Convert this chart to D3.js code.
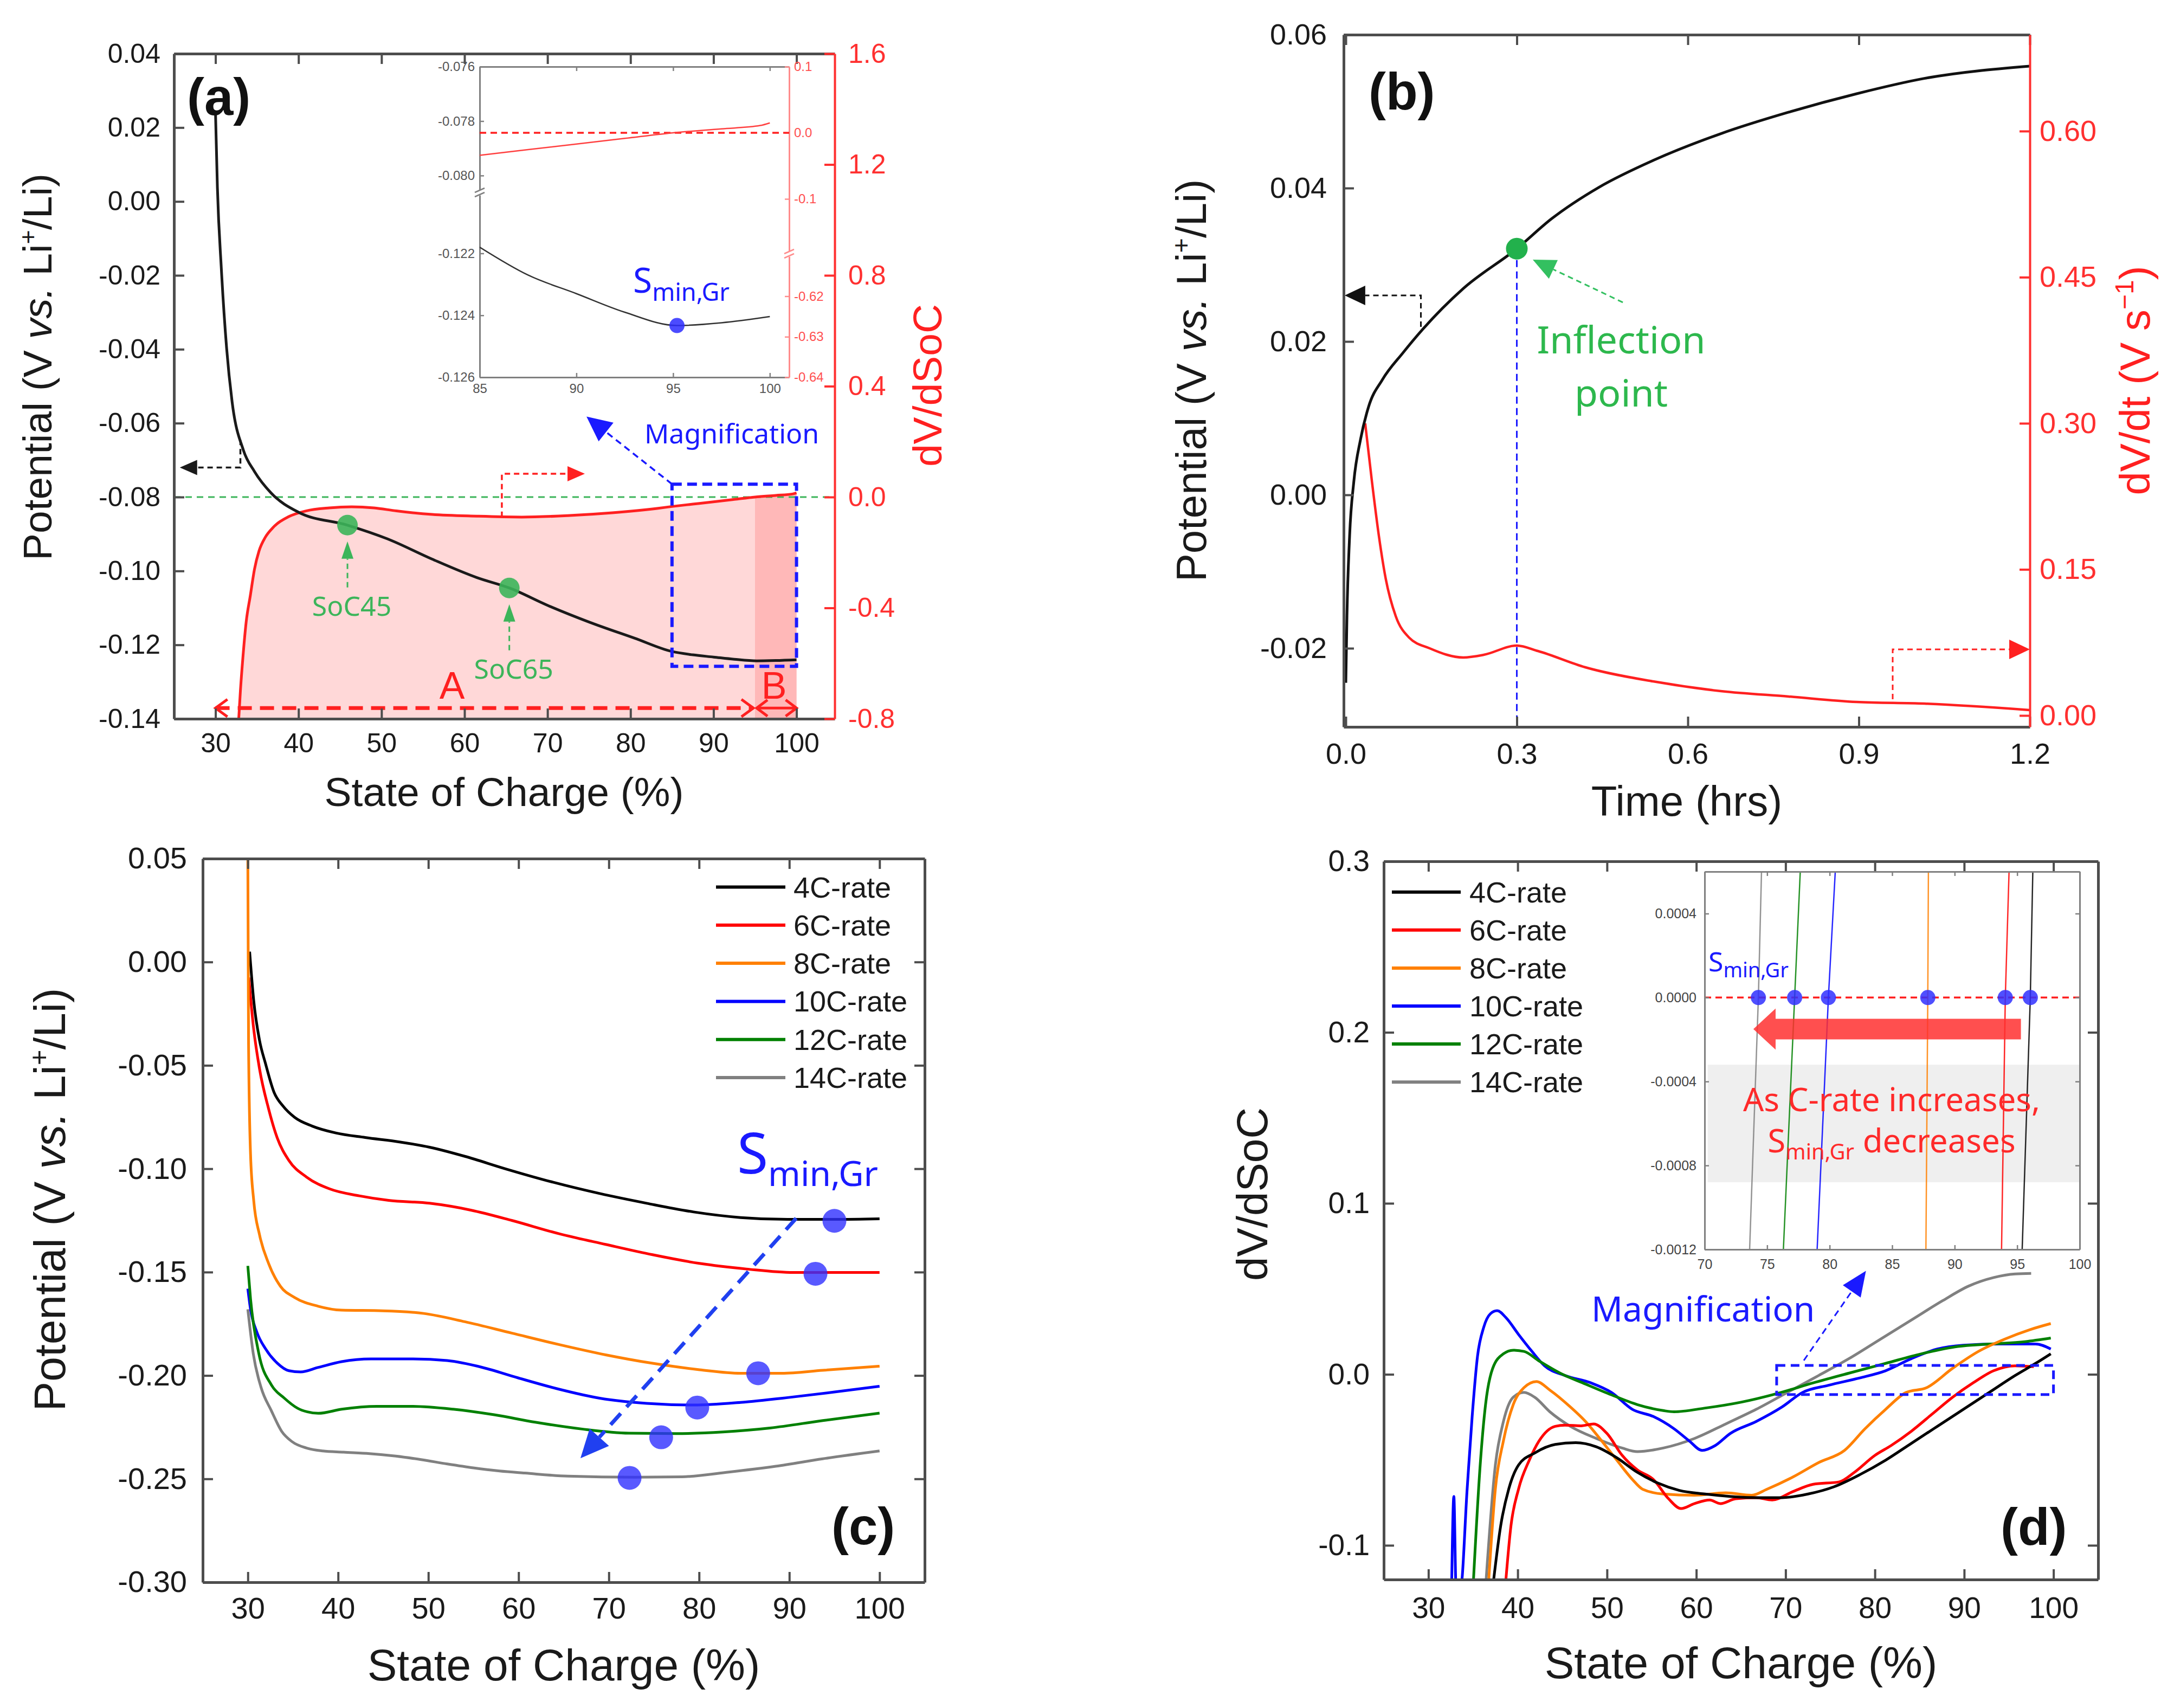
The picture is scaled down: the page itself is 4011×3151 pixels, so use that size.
<!DOCTYPE html>
<html>
<head>
<meta charset="utf-8">
<script src="https://cdn.jsdelivr.net/npm/d3@7"></script>
<style>
  body { margin: 0; background: #fff; }
  svg { display: block; }
</style>
</head>
<body>
<script>
// ---------- data ----------
// (a) 4C potential vs SoC and dV/dSoC
const potA = [[30.0,0.0241],[30.23,0.0038],[30.7,-0.018],[31.34,-0.0397],[32.0,-0.0542],[33.36,-0.0673],[34.7,-0.0731],[36.7,-0.0789],[40.0,-0.0841],[45.9,-0.0876],[50.7,-0.0913],[56.1,-0.0968],[61.5,-0.1018],[65.4,-0.1046],[70.0,-0.1093],[75.1,-0.1139],[80.5,-0.1182],[85,-0.1218],[87.5,-0.1227],[90,-0.1233],[92.5,-0.1239],[95.2,-0.12433],[97.5,-0.12424],[100,-0.12404]];
const dvA = [[32.8,-0.80],[33.0,-0.70],[33.3,-0.58],[33.7,-0.45],[34.2,-0.355],[34.7,-0.26],[35.25,-0.194],[36.0,-0.145],[36.9,-0.111],[38.8,-0.071],[40.9,-0.05],[43.7,-0.039],[46.4,-0.035],[49.1,-0.039],[51.8,-0.05],[56.1,-0.0626],[61.5,-0.069],[66.9,-0.0723],[72.4,-0.067],[77.8,-0.0567],[83.2,-0.041],[85,-0.034],[87.5,-0.0255],[90,-0.017],[92.5,-0.0085],[95,0.0],[97.5,0.006],[99.5,0.011],[100,0.015]];
const socMarks = [[45.9,-0.0876,"SoC45"],[65.4,-0.1046,"SoC65"]];
const sminA = [[95.2,-0.12433]];

// (b) relaxation potential and dV/dt vs time
const potB = [[0.0,-0.0245],[0.002,-0.0158],[0.0067,-0.0053],[0.014,0.0017],[0.026,0.0073],[0.040,0.0115],[0.064,0.0150],[0.100,0.0185],[0.135,0.0216],[0.206,0.0269],[0.300,0.0321],[0.361,0.0360],[0.444,0.0401],[0.539,0.0436],[0.658,0.0471],[0.777,0.0499],[0.896,0.0523],[1.015,0.0543],[1.2,0.0559]];
const dvdtB = [[0.034,0.300],[0.046,0.2395],[0.058,0.1845],[0.070,0.1405],[0.0876,0.102],[0.111,0.080],[0.147,0.069],[0.206,0.0596],[0.242,0.0623],[0.300,0.0718],[0.337,0.0662],[0.42,0.0495],[0.539,0.035],[0.658,0.025],[0.777,0.0195],[0.896,0.0139],[1.015,0.0122],[1.2,0.0056]];
const inflection = [0.30, 0.0321];

// C-rate series
const rates = ["4C-rate","6C-rate","8C-rate","10C-rate","12C-rate","14C-rate"];
const rateColors = ["#000000","#ff0000","#ff8000","#0000ff","#008000","#808080"];

// (c) potential vs SoC
const potC4 = [[30.2,0.005],[30.65,-0.0186],[31.3,-0.038],[31.95,-0.049],[32.9,-0.063],[33.9,-0.0697],[35.2,-0.0752],[37.15,-0.0794],[39.75,-0.0827],[43,-0.0849],[46.9,-0.0871],[50.15,-0.0896],[54.05,-0.094],[58.6,-0.1001],[63.8,-0.1065],[69,-0.112],[74.2,-0.1167],[79.4,-0.1209],[84.6,-0.1236],[89.8,-0.1245],[95,-0.1245],[100,-0.1242]];
const potC6 = [[30.1,-0.0075],[30.65,-0.0324],[31.3,-0.0518],[32.3,-0.071],[33.25,-0.085],[34.55,-0.096],[36.5,-0.104],[39.1,-0.1098],[42.35,-0.1131],[45.6,-0.1153],[50.15,-0.1167],[54.7,-0.12],[59.25,-0.125],[64.45,-0.1314],[69.65,-0.1366],[74.85,-0.1416],[80.05,-0.1458],[85.25,-0.1485],[90.45,-0.1502],[95,-0.1502],[100,-0.1502]];
const potC8 = [[30.0,0.05],[30.08,-0.04],[30.3,-0.093],[30.65,-0.1153],[31.3,-0.132],[32.3,-0.1458],[33.6,-0.1568],[35.2,-0.1623],[37.8,-0.1665],[40.4,-0.1684],[44.95,-0.1687],[49.5,-0.170],[54.05,-0.174],[59.25,-0.1795],[64.45,-0.185],[69.65,-0.19],[74.85,-0.1941],[80.05,-0.1972],[84.6,-0.1989],[89.15,-0.1989],[93.7,-0.1975],[100,-0.1955]];
const potC10 = [[30.0,-0.158],[30.3,-0.168],[31.0,-0.179],[31.95,-0.187],[33.25,-0.194],[34.55,-0.1977],[35.85,-0.1983],[37.8,-0.1961],[40.4,-0.1933],[43.65,-0.192],[48.2,-0.192],[52.1,-0.1928],[56,-0.1961],[59.9,-0.2011],[64.45,-0.2066],[69,-0.211],[74.2,-0.2135],[79.4,-0.2143],[84.6,-0.213],[89.8,-0.2107],[95,-0.208],[100,-0.2052]];
const potC12 = [[30.0,-0.147],[30.3,-0.163],[31.2,-0.189],[32.6,-0.2045],[34.0,-0.2108],[35.5,-0.2158],[36.6,-0.2176],[37.8,-0.2183],[40.4,-0.2163],[44.3,-0.2149],[48.2,-0.2149],[52.75,-0.2163],[57.3,-0.219],[61.85,-0.2226],[67.05,-0.2259],[72.25,-0.2279],[77.45,-0.2281],[82.65,-0.2273],[87.85,-0.2254],[93.7,-0.2218],[100,-0.2182]];
const potC14 = [[30.0,-0.168],[30.6,-0.1894],[31.46,-0.2057],[32.6,-0.217],[33.75,-0.227],[34.9,-0.232],[36.6,-0.2352],[38.3,-0.2365],[40.6,-0.2371],[43.5,-0.2378],[46.4,-0.239],[49.2,-0.2407],[52.1,-0.2428],[55,-0.2447],[57.9,-0.2462],[60.7,-0.2472],[65.5,-0.2487],[72.9,-0.2492],[78.1,-0.249],[83.3,-0.2467],[88.5,-0.2439],[93.7,-0.2403],[100,-0.2365]];
const sminC = [[95.0,-0.1252],[92.9,-0.1508],[86.55,-0.1989],[79.8,-0.2155],[75.8,-0.2299],[72.3,-0.2495]];

// (d) dV/dSoC vs SoC
const dvD4 = [[37.2,-0.125],[38.1,-0.0884],[39,-0.067],[40.1,-0.053],[41.9,-0.046],[44.2,-0.041],[46.5,-0.040],[48.8,-0.0424],[51.1,-0.0488],[53.4,-0.0573],[55.7,-0.0636],[58.1,-0.0679],[61,-0.070],[63.8,-0.0714],[66.7,-0.0721],[69.6,-0.0721],[72.5,-0.070],[75.4,-0.0658],[78.3,-0.0587],[81.2,-0.0502],[84.1,-0.0403],[87,-0.0304],[89.9,-0.0205],[92.8,-0.0106],[95.7,-0.0007],[98,0.0064],[99.7,0.012]];
const dvD6 = [[38.6,-0.125],[39.25,-0.0884],[40.1,-0.067],[41.3,-0.0502],[42.4,-0.0389],[44.2,-0.0304],[45.3,-0.0297],[47.1,-0.0301],[48.5,-0.029],[50,-0.0346],[51.7,-0.0474],[53.4,-0.0559],[55.2,-0.0615],[56.9,-0.0728],[58.3,-0.0785],[59.8,-0.0756],[61.5,-0.0735],[62.7,-0.0756],[64.4,-0.0728],[66.7,-0.0721],[68.5,-0.0735],[70.8,-0.0686],[73.1,-0.0643],[76,-0.0629],[77.7,-0.0573],[80,-0.0474],[81.8,-0.0417],[84.1,-0.0332],[86.4,-0.0233],[88.7,-0.0134],[91,-0.005],[93.3,0.0021],[95.7,0.005],[97.8,0.0045]];
const dvD8 = [[36.7,-0.125],[37.5,-0.067],[38.4,-0.0389],[39.5,-0.0177],[40.7,-0.0078],[42.1,-0.0042],[43.6,-0.0092],[45.9,-0.0191],[47.6,-0.0276],[49.4,-0.0389],[51.1,-0.0502],[52.85,-0.0615],[54,-0.0672],[56.3,-0.070],[59.8,-0.0707],[63.3,-0.0693],[66.2,-0.0707],[67.9,-0.0672],[70.8,-0.0601],[73.7,-0.0516],[76.6,-0.0445],[78.9,-0.0318],[81.2,-0.0205],[83.5,-0.0106],[85.8,-0.0078],[88.7,0.0035],[91.6,0.0134],[94.5,0.0205],[97.4,0.0262],[99.7,0.0297]];
const dvD10 = [[32.6,-0.125],[32.85,-0.0714],[33.1,-0.125],[33.6,-0.125],[34.34,-0.067],[34.9,-0.0247],[35.5,0.0106],[36.2,0.0276],[36.94,0.0354],[37.7,0.0372],[38.68,0.0332],[40.1,0.0233],[41.6,0.0134],[43,0.005],[45.3,-0.0007],[48.2,-0.005],[50.5,-0.0106],[52.85,-0.0205],[55.2,-0.0247],[57.5,-0.0318],[59.2,-0.0389],[60.66,-0.0445],[62.1,-0.0417],[63.8,-0.0346],[66.7,-0.0276],[69.6,-0.0191],[71.9,-0.0106],[74.8,-0.0064],[78.3,-0.0021],[81.2,0.0021],[84.1,0.0092],[87,0.0148],[89.9,0.017],[93.9,0.0177],[98,0.0177],[99.7,0.0148]];
const dvD12 = [[35.0,-0.125],[35.8,-0.053],[36.4,-0.0177],[37.2,0.0035],[38.4,0.012],[39.5,0.0141],[40.7,0.0134],[42.4,0.0078],[44.75,0.0007],[47.6,-0.0057],[50.5,-0.012],[53.4,-0.0177],[56.3,-0.0212],[57.5,-0.0219],[60.9,-0.0198],[65,-0.0163],[69,-0.0113],[73.1,-0.005],[77.1,0.0007],[81.2,0.0064],[85.2,0.012],[89.3,0.0163],[92.8,0.0177],[96.8,0.0191],[99.7,0.0212]];
const dvD14 = [[36.4,-0.125],[37.5,-0.053],[38.4,-0.0276],[39.5,-0.0134],[40.7,-0.0106],[41.9,-0.0134],[43.6,-0.0219],[45.9,-0.0304],[48.8,-0.0375],[51.7,-0.0431],[53.4,-0.0452],[56.3,-0.0431],[59.8,-0.0375],[63.3,-0.029],[66.7,-0.0205],[70.2,-0.0106],[73.7,-0.0007],[77.1,0.0092],[80.6,0.0205],[84.1,0.0318],[87.6,0.0431],[90.5,0.0516],[93.3,0.0566],[95.7,0.0587],[97.5,0.0590]];
// (d) inset: zero crossings
const zoomD4 = [[96.25,0.0006],[96.05,0],[95.4,-0.0012]];
const zoomD6 = [[94.35,0.0006],[94.05,0],[93.75,-0.0012]];
const zoomD8 = [[87.9,0.0006],[87.85,0],[87.7,-0.0012]];
const zoomD10 = [[80.45,0.0006],[79.9,0],[79.0,-0.0012]];
const zoomD12 = [[77.65,0.0006],[77.2,0],[76.3,-0.0012]];
const zoomD14 = [[74.55,0.0006],[74.3,0],[73.6,-0.0012]];
const sminD = [74.3, 77.2, 79.9, 87.85, 94.05, 96.05];

// ---------- tick values ----------
const socTicks = [30, 40, 50, 60, 70, 80, 90, 100];
const potTicksA = [-0.14, -0.12, -0.10, -0.08, -0.06, -0.04, -0.02, 0.00, 0.02, 0.04];
const dvTicksA = [-0.8, -0.4, 0.0, 0.4, 0.8, 1.2, 1.6];
const timeTicks = [0.0, 0.3, 0.6, 0.9, 1.2];
const potTicksB = [-0.02, 0.00, 0.02, 0.04, 0.06];
const dvdtTicks = [0.00, 0.15, 0.30, 0.45, 0.60];
const potTicksC = [-0.30, -0.25, -0.20, -0.15, -0.10, -0.05, 0.00, 0.05];
const dvTicksD = [-0.1, 0.0, 0.1, 0.2, 0.3];
const insetXA = [85, 90, 95, 100];
const insetTopLA = [-0.080, -0.078, -0.076];
const insetBotLA = [-0.126, -0.124, -0.122];
const insetTopRA = [-0.1, 0.0, 0.1];
const insetBotRA = [-0.64, -0.63, -0.62];
const insetXD = [70, 75, 80, 85, 90, 95, 100];
const insetYD = [-0.0012, -0.0008, -0.0004, 0.0000, 0.0004];

// ---------- setup ----------
const FONT = '"Liberation Sans", Arial, Helvetica, sans-serif';
const ANNO = '"Noto Sans", "Open Sans", sans-serif';
const FRAME = "#4d4d4d", INK = "#1a1a1a", RED = "#ff2020", BLUE = "#1a1aff", GREEN = "#3cb55a";
const TL = 19;
const loc = d3.formatLocale({decimal: ".", thousands: ",", grouping: [3], currency: ["", ""], minus: "-"});
const fmt = s => loc.format(s);
const blank = () => "";

const svg = d3.select("body").append("svg").attr("width", 4011).attr("height", 3151);
svg.append("rect").attr("width", 4011).attr("height", 3151).attr("fill", "#fff");
const defs = svg.append("defs");

function clip(id, x, y) {
  defs.append("clipPath").attr("id", id).append("rect")
    .attr("x", x.range()[0]).attr("y", y.range()[1])
    .attr("width", x.range()[1] - x.range()[0]).attr("height", y.range()[0] - y.range()[1]);
  return `url(#${id})`;
}

function putAxis(g, axis, tx, ty, color, fs, lw, tw, textColor) {
  const a = g.append("g").attr("transform", `translate(${tx},${ty})`).call(axis);
  a.attr("font-family", null).attr("font-size", null);
  a.select(".domain").attr("stroke", color).attr("stroke-width", lw);
  a.selectAll(".tick line").attr("stroke", color).attr("stroke-width", tw);
  a.selectAll(".tick text").attr("fill", textColor || color).style("font-family", FONT).style("font-size", fs + "px");
  return a;
}

function frame(g, x, y, o) {
  const [x0, x1] = x.range(), [yb, yt] = y.range();
  const tl = o.tl || TL, lw = o.lw || 5, tw = o.tw || 4, col = o.color || FRAME;
  putAxis(g, d3.axisBottom(x).tickValues(o.xt).tickFormat(o.xf).tickSizeInner(-tl).tickSizeOuter(0).tickPadding(o.px), 0, yb, col, o.fs, lw, tw, o.ink || INK);
  putAxis(g, d3.axisTop(x).tickValues(o.xt).tickFormat(blank).tickSizeInner(-tl).tickSizeOuter(0), 0, yt, col, o.fs, lw, tw);
  putAxis(g, d3.axisLeft(y).tickValues(o.yt).tickFormat(o.yf).tickSizeInner(-tl).tickSizeOuter(0).tickPadding(o.py), x0, 0, col, o.fs, lw, tw, o.ink || INK);
  if (o.r) putAxis(g, d3.axisRight(o.r.scale).tickValues(o.r.t).tickFormat(o.r.f).tickSizeInner(-tl).tickSizeOuter(0).tickPadding(o.r.p), x1, 0, o.r.color, o.fs, 4, tw, o.r.color);
  else putAxis(g, d3.axisRight(y).tickValues(o.yt).tickFormat(blank).tickSizeInner(-tl).tickSizeOuter(0), x1, 0, col, o.fs, lw, tw);
}

const lineOf = (x, y) => d3.line().x(d => x(d[0])).y(d => y(d[1])).curve(d3.curveMonotoneX);

function potentialTitle(g, x, y, fs) {
  const t = g.append("text").attr("transform", `translate(${x},${y}) rotate(-90)`)
    .attr("text-anchor", "middle").attr("fill", INK).style("font-family", FONT).style("font-size", fs + "px");
  t.append("tspan").text("Potential (V ");
  t.append("tspan").style("font-style", "italic").text("vs.");
  t.append("tspan").text(" Li");
  t.append("tspan").attr("dy", -0.38 * fs).style("font-size", 0.6 * fs + "px").text("+");
  t.append("tspan").attr("dy", 0.38 * fs).text("/Li)");
}
function plainText(g, x, y, fs, color, txt, o = {}) {
  return g.append("text").attr("x", x).attr("y", y).attr("fill", color)
    .attr("text-anchor", o.anchor || "start").attr("transform", o.rot ? `rotate(-90,${x},${y})` : null)
    .style("font-family", o.font || FONT).style("font-size", fs + "px").style("font-weight", o.bold ? "bold" : null).text(txt);
}
function smin(g, x, y, fs, sub, dy, color, extra, anchor) {
  const t = g.append("text").attr("x", x).attr("y", y).attr("fill", color).attr("text-anchor", anchor || "start")
    .style("font-family", ANNO).style("font-size", fs + "px");
  t.append("tspan").text("S");
  t.append("tspan").attr("dy", dy).style("font-size", sub + "px").text("min,Gr");
  if (extra) t.append("tspan").attr("dy", -dy).text(extra);
  return t;
}
function arrow(g, pts, color, w, dash, hl, hh) {
  const n = pts.length, tip = pts[n - 1], prev = pts[n - 2];
  const dx = tip[0] - prev[0], dy = tip[1] - prev[1], L = Math.hypot(dx, dy), ux = dx / L, uy = dy / L;
  const base = [tip[0] - ux * hl, tip[1] - uy * hl];
  g.append("path").attr("d", d3.line()([...pts.slice(0, n - 1), base])).attr("fill", "none")
    .attr("stroke", color).attr("stroke-width", w).attr("stroke-dasharray", dash);
  g.append("path").attr("d", `M${tip[0]},${tip[1]}L${base[0] - uy * hh},${base[1] + ux * hh}L${base[0] + uy * hh},${base[1] - ux * hh}Z`).attr("fill", color);
}
function chevron(g, tip, dir, len, half, color, w) {
  g.append("path").attr("d", `M${tip[0] - dir * len},${tip[1] - half}L${tip[0]},${tip[1]}L${tip[0] - dir * len},${tip[1] + half}`)
    .attr("fill", "none").attr("stroke", color).attr("stroke-width", w);
}
function dashedBox(g, x, y, xa, xb, ya, yb, w, dash) {
  g.append("rect").attr("x", x(xa)).attr("y", y(ya)).attr("width", x(xb) - x(xa)).attr("height", y(yb) - y(ya))
    .attr("fill", "none").attr("stroke", BLUE).attr("stroke-width", w).attr("stroke-dasharray", dash);
}

// =================== (a) ===================
const xA = d3.scaleLinear().domain([25, 104.6]).range([321, 1540]);
const yAL = d3.scaleLinear().domain([-0.14, 0.04]).range([1326, 99]);
const yAR = d3.scaleLinear().domain([-0.8, 1.6]).range([1326, 99]);
const gA = svg.append("g");
const pA = gA.append("g").attr("clip-path", clip("clipA", xA, yAL));
const areaA = d3.area().x(d => xA(d[0])).y0(yAL.range()[0]).y1(d => yAR(d[1])).curve(d3.curveMonotoneX);
pA.append("path").datum(dvA).attr("d", areaA).attr("fill", "#ffd8d8");
pA.append("path").datum(dvA.filter(d => d[0] >= 95)).attr("d", areaA).attr("fill", "#ffb8b8");
pA.append("line").attr("x1", xA.range()[0]).attr("x2", xA.range()[1]).attr("y1", yAR(0)).attr("y2", yAR(0))
  .attr("stroke", GREEN).attr("stroke-width", 3).attr("stroke-dasharray", "12,9");
pA.append("path").datum(dvA).attr("d", lineOf(xA, yAR)).attr("fill", "none").attr("stroke", RED).attr("stroke-width", 5);
pA.append("path").datum(potA).attr("d", lineOf(xA, yAL)).attr("fill", "none").attr("stroke", "#1a1a1a").attr("stroke-width", 5);
pA.selectAll("circle.soc").data(socMarks).join("circle").attr("class", "soc")
  .attr("cx", d => xA(d[0])).attr("cy", d => yAL(d[1])).attr("r", 19).attr("fill", GREEN).attr("opacity", 0.9);
socMarks.forEach(d => {
  const cx = xA(d[0]), cy = yAL(d[1]);
  arrow(gA, [[cx, cy + 115], [cx, cy + 30]], GREEN, 3, "10,7", 32, 11);
  plainText(gA, cx + 8, cy + 167, 50, GREEN, d[2], {anchor: "middle", font: ANNO});
});
dashedBox(gA, xA, yAL, 85, 100, -0.0765, -0.1258, 6, "18,10");
arrow(gA, [[xA(85), yAL(-0.0765)], [xA(74.7), yAL(-0.0582)]], BLUE, 3.5, "12,8", 46, 22);
plainText(gA, 1189, 818, 50, BLUE, "Magnification", {font: ANNO});
arrow(gA, [[xA(33), yAL(-0.0645)], [xA(33), yAL(-0.072)], [xA(25.7), yAL(-0.072)]], "#1a1a1a", 3.5, "10,7", 32, 14);
arrow(gA, [[xA(64.5), yAR(-0.072)], [xA(64.5), yAR(0.084)], [xA(74.5), yAR(0.084)]], RED, 3.5, "10,7", 32, 14);
// A / B ranges
const yAB = yAL(-0.1371);
gA.append("line").attr("x1", xA(30)).attr("x2", xA(94.8)).attr("y1", yAB).attr("y2", yAB)
  .attr("stroke", RED).attr("stroke-width", 7).attr("stroke-dasharray", "26,15");
chevron(gA, [xA(30), yAB], -1, 22, 16, RED, 5);
chevron(gA, [xA(94.8), yAB], 1, 22, 16, RED, 5);
gA.append("line").attr("x1", xA(95.2)).attr("x2", xA(100)).attr("y1", yAB).attr("y2", yAB).attr("stroke", RED).attr("stroke-width", 5);
chevron(gA, [xA(95.2), yAB], -1, 20, 15, RED, 5);
chevron(gA, [xA(100), yAB], 1, 20, 15, RED, 5);
plainText(gA, xA(58.5), yAL(-0.1346), 70, RED, "A", {anchor: "middle"});
plainText(gA, xA(97.3), yAL(-0.1346), 70, RED, "B", {anchor: "middle"});
frame(gA, xA, yAL, {xt: socTicks, xf: fmt("d"), yt: potTicksA, yf: fmt(".2f"), fs: 50, px: 26, py: 25,
  r: {scale: yAR, t: dvTicksA, f: fmt(".1f"), p: 25, color: "#ff3030"}});
plainText(gA, 930, 1487, 75, INK, "State of Charge (%)", {anchor: "middle"});
potentialTitle(gA, 95, 677, 75);
plainText(gA, 1737, 711, 75, RED, "dV/dSoC", {anchor: "middle", rot: true});
plainText(gA, 345, 212, 96, "#111", "(a)", {bold: true});

// inset (a)
const xIA = d3.scaleLinear().domain([85, 101]).range([885, 1456]);
const yIAt = d3.scaleLinear().domain([-0.08052, -0.076]).range([350, 123]);
const yIAb = d3.scaleLinear().domain([-0.126, -0.12012]).range([696, 360]);
const yIRt = d3.scaleLinear().domain([-0.1787, 0.1]).range([463, 123]);
const yIRb = d3.scaleLinear().domain([-0.64, -0.61017]).range([696, 473]);
const gI = gA.append("g");
gI.append("rect").attr("x", 885).attr("y", 123).attr("width", 571).attr("height", 573).attr("fill", "#fff");
const IG = "#808080", IR = "#ff8c8c";
putAxis(gI, d3.axisBottom(xIA).tickValues(insetXA).tickFormat(fmt("d")).tickSizeInner(-8).tickSizeOuter(0).tickPadding(12), 0, 696, IG, 24, 3, 2.5, "#555");
putAxis(gI, d3.axisTop(xIA).tickValues(insetXA).tickFormat(blank).tickSizeInner(-8).tickSizeOuter(0), 0, 123, IG, 24, 3, 2.5);
putAxis(gI, d3.axisLeft(yIAt).tickValues(insetTopLA).tickFormat(fmt(".3f")).tickSizeInner(-8).tickSizeOuter(0).tickPadding(9), 885, 0, IG, 24, 3, 2.5, "#555");
putAxis(gI, d3.axisLeft(yIAb).tickValues(insetBotLA).tickFormat(fmt(".3f")).tickSizeInner(-8).tickSizeOuter(0).tickPadding(9), 885, 0, IG, 24, 3, 2.5, "#555");
putAxis(gI, d3.axisRight(yIRt).tickValues(insetTopRA).tickFormat(fmt(".1f")).tickSizeInner(-8).tickSizeOuter(0).tickPadding(9), 1456, 0, IR, 24, 3, 2.5, "#ff5050");
putAxis(gI, d3.axisRight(yIRb).tickValues(insetBotRA).tickFormat(fmt(".2f")).tickSizeInner(-8).tickSizeOuter(0).tickPadding(9), 1456, 0, IR, 24, 3, 2.5, "#ff5050");
[[885, 355, IG], [1456, 468, IR]].forEach(([bx, by, c]) => {
  [-4, 4].forEach(o => gI.append("line").attr("x1", bx - 9).attr("y1", by + o + 4).attr("x2", bx + 9).attr("y2", by + o - 4)
    .attr("stroke", c).attr("stroke-width", 2.5));
});
const pI = gI.append("g").attr("clip-path", clip("clipIA", xIA, d3.scaleLinear().range([696, 123])));
pI.append("line").attr("x1", 885).attr("x2", 1456).attr("y1", yIRt(0)).attr("y2", yIRt(0))
  .attr("stroke", "#ff2020").attr("stroke-width", 3.5).attr("stroke-dasharray", "12,8");
pI.append("path").datum(dvA.filter(d => d[0] >= 85)).attr("d", lineOf(xIA, yIRt)).attr("fill", "none").attr("stroke", "#ff4040").attr("stroke-width", 2.5);
pI.append("path").datum(potA.filter(d => d[0] >= 85)).attr("d", lineOf(xIA, yIAb)).attr("fill", "none").attr("stroke", "#333").attr("stroke-width", 2.5);
pI.selectAll("circle").data(sminA).join("circle").attr("cx", d => xIA(d[0])).attr("cy", d => yIAb(d[1])).attr("r", 14).attr("fill", "#2b2bff").attr("opacity", 0.85);
smin(gI, 1168, 540, 64, 45, 15, BLUE);

// =================== (b) ===================
const xB = d3.scaleLinear().domain([-0.0038, 1.2]).range([2479, 3745]);
const yBL = d3.scaleLinear().domain([-0.03025, 0.06]).range([1341, 64]);
const yBR = d3.scaleLinear().domain([-0.0117, 0.699]).range([1341, 64]);
const gB = svg.append("g");
const pB = gB.append("g").attr("clip-path", clip("clipB", xB, yBL));
pB.append("line").attr("x1", xB(inflection[0])).attr("x2", xB(inflection[0])).attr("y1", yBL(inflection[1])).attr("y2", yBL.range()[0])
  .attr("stroke", "#1a1aff").attr("stroke-width", 3).attr("stroke-dasharray", "13,8");
pB.append("path").datum(dvdtB).attr("d", lineOf(xB, yBR)).attr("fill", "none").attr("stroke", RED).attr("stroke-width", 4.5);
pB.append("path").datum(potB).attr("d", lineOf(xB, yBL)).attr("fill", "none").attr("stroke", "#111").attr("stroke-width", 5);
pB.append("circle").attr("cx", xB(inflection[0])).attr("cy", yBL(inflection[1])).attr("r", 20).attr("fill", "#22b14c");
arrow(gB, [[xB(0.1317), yBL(0.0219)], [xB(0.1317), yBL(0.026)], [xB(-0.002), yBL(0.026)]], "#111", 3, "10,7", 38, 18);
arrow(gB, [[xB(0.9594), yBR(0.0167)], [xB(0.9594), yBR(0.0679)], [xB(1.2), yBR(0.0679)]], RED, 3, "10,7", 38, 18);
arrow(gB, [[xB(0.486), yBL(0.0251)], [xB(0.328), yBL(0.03067)]], "#33c060", 3, "10,7", 42, 19);
plainText(gB, 2991, 652, 70, "#2db84d", "Inflection", {anchor: "middle", font: ANNO});
plainText(gB, 2991, 750, 70, "#2db84d", "point", {anchor: "middle", font: ANNO});
frame(gB, xB, yBL, {xt: timeTicks, xf: fmt(".1f"), yt: potTicksB, yf: fmt(".2f"), fs: 54, px: 30, py: 31,
  r: {scale: yBR, t: dvdtTicks, f: fmt(".2f"), p: 18, color: "#ff3030"}});
plainText(gB, 3112, 1505, 78, INK, "Time (hrs)", {anchor: "middle"});
potentialTitle(gB, 2225, 702, 78);
{
  const t = gB.append("text").attr("transform", "translate(3966,702) rotate(-90)").attr("text-anchor", "middle")
    .attr("fill", RED).style("font-family", FONT).style("font-size", "78px");
  t.append("tspan").text("dV/dt (V s");
  t.append("tspan").attr("dy", -30).style("font-size", "48px").text("\u22121");
  t.append("tspan").attr("dy", 30).text(")");
}
plainText(gB, 2525, 202, 96, "#111", "(b)", {bold: true});

// =================== (c) ===================
const xC = d3.scaleLinear().domain([25, 105]).range([374, 1706]);
const yC = d3.scaleLinear().domain([-0.30, 0.05]).range([2919, 1584]);
const gC = svg.append("g");
const pC = gC.append("g").attr("clip-path", clip("clipC", xC, yC));
const seriesC = [potC4, potC6, potC8, potC10, potC12, potC14];
pC.selectAll("path.s").data(seriesC).join("path").attr("class", "s")
  .attr("d", lineOf(xC, yC)).attr("fill", "none").attr("stroke", (d, i) => rateColors[i]).attr("stroke-width", 5);
pC.selectAll("circle").data(sminC).join("circle").attr("cx", d => xC(d[0])).attr("cy", d => yC(d[1]))
  .attr("r", 22).attr("fill", "#3030ff").attr("opacity", 0.8);
arrow(gC, [[xC(90.76), yC(-0.124)], [xC(66.86), yC(-0.24)]], "#2040f0", 7, "28,16", 52, 24);
smin(gC, 1360, 2165, 104, 64, 23, BLUE);
const legC = gC.append("g");
rates.forEach((r, i) => {
  const yy = 1636.5 + 70.3 * i;
  legC.append("line").attr("x1", 1321).attr("x2", 1449).attr("y1", yy).attr("y2", yy).attr("stroke", rateColors[i]).attr("stroke-width", 6);
  plainText(legC, 1464, yy + 19, 54, INK, r);
});
frame(gC, xC, yC, {xt: socTicks, xf: fmt("d"), yt: potTicksC, yf: fmt(".2f"), fs: 56, px: 27, py: 29});
plainText(gC, 1040, 3100, 82, INK, "State of Charge (%)", {anchor: "middle"});
potentialTitle(gC, 120, 2213, 82);
plainText(gC, 1534, 2849, 96, "#111", "(c)", {bold: true});

// =================== (d) ===================
const xD = d3.scaleLinear().domain([25, 105]).range([2553, 3871]);
const yD = d3.scaleLinear().domain([-0.12, 0.3]).range([2914, 1589]);
const gD = svg.append("g");
const pD = gD.append("g").attr("clip-path", clip("clipD", xD, yD));
const seriesD = [dvD4, dvD6, dvD8, dvD10, dvD12, dvD14];
const orderD = [5, 3, 4, 2, 1, 0];
pD.selectAll("path.s").data(orderD).join("path").attr("class", "s")
  .attr("d", i => lineOf(xD, yD)(seriesD[i])).attr("fill", "none").attr("stroke", i => rateColors[i]).attr("stroke-width", 5);
dashedBox(gD, xD, yD, 69, 100, 0.0052, -0.0118, 5, "16,10");
arrow(gD, [[xD(72.04), yD(0.0081)], [xD(79.0), yD(0.0605)]], BLUE, 3, "12,8", 46, 20);
plainText(gD, 2936, 2438, 64, BLUE, "Magnification", {font: ANNO});
const legD = gD.append("g");
rates.forEach((r, i) => {
  const yy = 1645.7 + 70.1 * i;
  legD.append("line").attr("x1", 2568).attr("x2", 2695).attr("y1", yy).attr("y2", yy).attr("stroke", rateColors[i]).attr("stroke-width", 6);
  plainText(legD, 2711, yy + 19, 54, INK, r);
});
frame(gD, xD, yD, {xt: socTicks, xf: fmt("d"), yt: dvTicksD, yf: fmt(".1f"), fs: 55, px: 32, py: 26});
plainText(gD, 3212, 3096, 82, INK, "State of Charge (%)", {anchor: "middle"});
plainText(gD, 2338, 2203, 80, INK, "dV/dSoC", {anchor: "middle", rot: true});
plainText(gD, 3691, 2850, 96, "#111", "(d)", {bold: true});

// inset (d)
const xID = d3.scaleLinear().domain([70, 100]).range([3145, 3837]);
const yID = d3.scaleLinear().domain([-0.0012, 0.0006]).range([2305, 1608]);
const gJ = gD.append("g");
gJ.append("rect").attr("x", 3145).attr("y", 1608).attr("width", 692).attr("height", 697).attr("fill", "#fff");
const pJ = gJ.append("g").attr("clip-path", clip("clipID", xID, yID));
pJ.append("rect").attr("x", xID(70.25)).attr("y", yID(-0.00032)).attr("width", xID(100) - xID(70.25))
  .attr("height", yID(-0.00088) - yID(-0.00032)).attr("fill", "#efefef");
pJ.append("line").attr("x1", 3145).attr("x2", 3837).attr("y1", yID(0)).attr("y2", yID(0))
  .attr("stroke", "#ff2020").attr("stroke-width", 3.5).attr("stroke-dasharray", "12,8");
const zoomD = [zoomD4, zoomD6, zoomD8, zoomD10, zoomD12, zoomD14];
pJ.selectAll("path.z").data(zoomD).join("path").attr("class", "z")
  .attr("d", d3.line().x(d => xID(d[0])).y(d => yID(d[1]))).attr("fill", "none")
  .attr("stroke", (d, i) => rateColors[i]).attr("stroke-width", 2.5).attr("opacity", 0.85);
{
  const tx = xID(95.3), hx = xID(73.9), cy = yID(-0.00015);
  pJ.append("path").attr("d", `M${hx},${cy}L${hx + 41},${cy - 38}L${hx + 41},${cy - 19}L${tx},${cy - 19}L${tx},${cy + 19}L${hx + 41},${cy + 19}L${hx + 41},${cy + 38}Z`)
    .attr("fill", "#ff3030").attr("opacity", 0.85);
}
pJ.selectAll("circle").data(sminD).join("circle").attr("cx", d => xID(d)).attr("cy", yID(0)).attr("r", 14)
  .attr("fill", "#3030ff").attr("opacity", 0.85);
putAxis(gJ, d3.axisBottom(xID).tickValues(insetXD).tickFormat(fmt("d")).tickSizeInner(-8).tickSizeOuter(0).tickPadding(18), 0, 2305, "#808080", 25, 3, 2.5, "#444");
putAxis(gJ, d3.axisTop(xID).tickValues(insetXD).tickFormat(blank).tickSizeInner(-8).tickSizeOuter(0), 0, 1608, "#808080", 25, 3, 2.5);
putAxis(gJ, d3.axisLeft(yID).tickValues(insetYD).tickFormat(fmt(".4f")).tickSizeInner(-8).tickSizeOuter(0).tickPadding(15), 3145, 0, "#808080", 25, 3, 2.5, "#444");
putAxis(gJ, d3.axisRight(yID).tickValues(insetYD).tickFormat(blank).tickSizeInner(-8).tickSizeOuter(0), 3837, 0, "#808080", 25, 3, 2.5);
smin(gJ, 3152, 1792, 50, 38, 11, BLUE);
plainText(gJ, 3490, 2050, 60, "#ff2a2a", "As C-rate increases,", {anchor: "middle", font: ANNO});
smin(gJ, 3490, 2126, 60, 40, 13, "#ff2a2a", " decreases", "middle");
</script>
</body>
</html>
